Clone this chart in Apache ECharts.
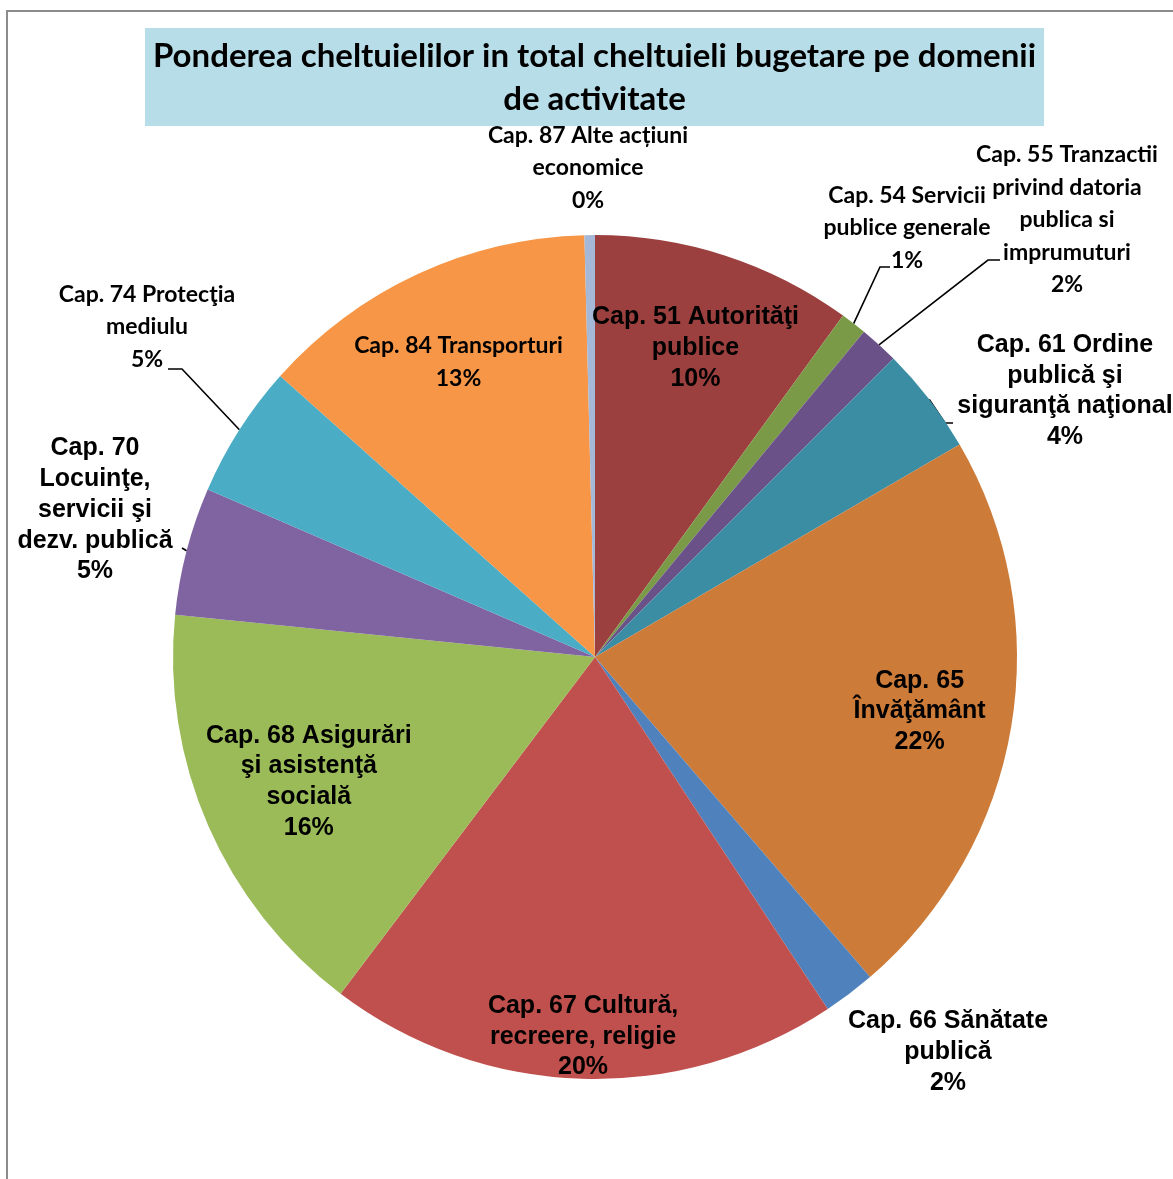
<!DOCTYPE html>
<html>
<head>
<meta charset="utf-8">
<title>Ponderea cheltuielilor</title>
<script src="https://cdn.jsdelivr.net/npm/echarts@6/dist/echarts.min.js"></script>
<style>
    html, body { margin: 0; padding: 0; background: #fff; overflow: hidden; }
    #frame { position: absolute; left: 6px; top: 10px; width: 1400px; height: 1400px;
             border-left: 2px solid #8c8c8c; border-top: 2px solid #8c8c8c; }
    #main { position: absolute; left: 0; top: 0; width: 1173px; height: 1179px; }
</style>
</head>
<body>
<div id="frame"></div>
<div id="main"></div>
<script>
// 标题
var titleText = "Ponderea cheltuielilor in total cheltuieli bugetare pe domenii\nde activitate";

// 分类（按顺时针，从12点方向开始）
var categories = [
    "Cap. 51 Autorităţi\npublice",
    "Cap. 54 Servicii\npublice generale",
    "Cap. 55 Tranzactii\nprivind datoria\npublica si\nimprumuturi",
    "Cap. 61 Ordine\npublică şi\nsiguranţă naţional",
    "Cap. 65\nÎnvăţământ",
    "Cap. 66 Sănătate\npublică",
    "Cap. 67 Cultură,\nrecreere, religie",
    "Cap. 68 Asigurări\nşi asistenţă\nsocială",
    "Cap. 70\nLocuinţe,\nservicii şi\ndezv. publică",
    "Cap. 74 Protecţia\nmediulu",
    "Cap. 84 Transporturi",
    "Cap. 87 Alte acțiuni\neconomice"
];
// 占比（%）
var values = [10.0, 1.0, 1.5, 4.1, 22.1, 2.0, 19.6, 16.3, 4.9, 5.1, 13.0, 0.4];
var colors = ["#9b403e", "#7a9a47", "#6a5289", "#3a8da3", "#cd7b38", "#4f81bd",
              "#c0504d", "#9bbb59", "#8064a2", "#4bacc6", "#f79646", "#a5b8d8"];

var cx = 595, cy = 657, R = 422;

// 字体：Calibri 用 Lato 代替，Arial 用 Liberation Sans
var fontA = { fontFamily: "Lato", fontSize: 23, fontWeight: "bold", lineHeight: 32.5, color: "#000" };
var fontB = { fontFamily: "'Liberation Sans', Arial", fontSize: 25, fontWeight: "bold", lineHeight: 30.7, color: "#000" };
var calibriIdx = [1, 2, 9, 10, 11];

// 内部标签：沿中线角度的半径比例
var insideR = { 0: 0.77, 4: 0.78, 6: 0.90, 7: 0.74, 10: 0.77 };
// 外部标签：相对圆心的位置，以及引导线折点
var outside = {
    1: { at: [312, -429], line: [[285, -390], [295, -390]] },
    2: { at: [472, -437], line: [[393, -397], [405, -397]] },
    3: { at: [470, -266], line: [[350, -234], [358, -234]] },
    5: { at: [353, 395] },
    8: { at: [-500, -147], line: [[-413, -109]] },
    9: { at: [-448, -330], line: [[-413, -288], [-427, -288]] },
    11: { at: [-7, -489] }
};

var total = 0;
for (var i = 0; i < values.length; i++) total += values[i];

// 第 i 块扇形中线的角度（从12点方向顺时针，弧度）
function midAngle(idx) {
    var before = 0;
    for (var i = 0; i < idx; i++) before += values[i];
    return (before + values[idx] / 2) / total * Math.PI * 2;
}
function polar(a, r) {
    return [cx + r * Math.sin(a), cy - r * Math.cos(a)];
}
function $extend(a, b) {
    for (var k in b) a[k] = b[k];
    return a;
}

var pieData = [];
for (var i = 0; i < categories.length; i++) {
    var f = calibriIdx.indexOf(i) != -1 ? fontA : fontB;
    var o = outside[i];
    pieData.push({
        name: categories[i],
        value: values[i],
        itemStyle: { color: colors[i] },
        label: $extend({ width: 320 }, f),
        labelLine: { show: !!(o && o.line) }
    });
}

var chart = echarts.init(document.getElementById("main"));
chart.setOption({
    animation: false,
    title: {
        text: titleText,
        left: 586.5,
        top: 28,
        textAlign: "center",
        backgroundColor: "#b7dee8",
        padding: [7, 8, 5, 8],
        textStyle: { fontFamily: "Lato", fontSize: 33, fontWeight: "bold", lineHeight: 43, color: "#000" }
    },
    series: [{
        type: "pie",
        center: [cx, cy],
        radius: R,
        startAngle: 90,
        clockwise: true,
        avoidLabelOverlap: false,
        silent: true,
        emphasis: { disabled: true },
        data: pieData,
        label: {
            show: true,
            position: "outside",
            formatter: function (p) {
                return p.name + "\n" + Math.round(p.percent) + "%";
            }
        },
        labelLine: { show: true, lineStyle: { color: "#000", width: 1.6 } },
        labelLayout: function (p) {
            var idx = p.dataIndex;
            var a = midAngle(idx);
            var res = { align: "center", verticalAlign: "middle", width: 320 };
            if (insideR[idx] != null) {
                var pt = polar(a, R * insideR[idx]);
                res.x = pt[0];
                res.y = pt[1];
                return res;
            }
            var o = outside[idx];
            res.x = cx + o.at[0];
            res.y = cy + o.at[1];
            if (o.line) {
                var pts = [polar(a, R)];
                for (var j = 0; j < o.line.length; j++) {
                    pts.push([cx + o.line[j][0], cy + o.line[j][1]]);
                }
                res.labelLinePoints = pts;
            }
            return res;
        }
    }]
});
</script>
</body>
</html>
